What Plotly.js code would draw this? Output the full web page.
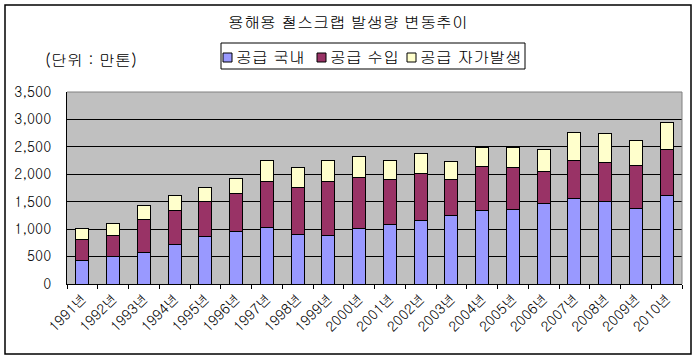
<!DOCTYPE html>
<html>
<head>
<meta charset="utf-8">
<script src="https://cdn.plot.ly/plotly-3.0.1.min.js"></script>
<style>html,body{margin:0;padding:0;background:#fff;}#chart{width:696px;height:360px;}</style>
</head>
<body>
<div id="chart"></div>
<script>
const years = ["1991년","1992년","1993년","1994년","1995년","1996년","1997년","1998년","1999년","2000년",
               "2001년","2002년","2003년","2004년","2005년","2006년","2007년","2008년","2009년","2010년"];
const domestic = [430, 500, 580, 720, 870, 960, 1030, 900, 890, 1010, 1090, 1160, 1250, 1340, 1360, 1470, 1560, 1500, 1380, 1610];
const imported = [380, 385, 600, 620, 635, 690, 840, 855, 980, 930, 820, 855, 655, 800, 765, 580, 690, 710, 780, 840];
const selfGen  = [200, 220, 255, 275, 255, 275, 380, 365, 380, 380, 345, 365, 330, 345, 365, 400, 510, 530, 455, 490];
const seriesNames = ["공급 국내", "공급 수입", "공급 자가발생"];
const titleText = "용해용 철스크랩 발생량 변동추이";
const unitText = "(단위 : 만톤)";

const FONT = "Gulim, 'Noto Sans CJK KR', sans-serif";
const colors = ["#9999FF", "#993366", "#FFFFCC"];
const vals = [domestic, imported, selfGen];
const traces = vals.map((v, i) => ({
  type: "bar", x: years, y: v, name: seriesNames[i],
  marker: {color: colors[i], line: {color: "#000", width: 1}},
  hoverinfo: "x+y+name"
}));

const L = 67, R = 682, T = 92, B = 284;
const W = R - L, H = B - T;
const px = x => (x - L) / W;
const py = y => (B - y) / H;

// legend (drawn as shapes + text, Excel style)
const legSq = [223, 317, 407];     // square left edges (px)
const shapes = [
  {type: "rect", xref: "paper", yref: "paper", x0: px(5), x1: px(691), y0: py(354), y1: py(5),
   line: {color: "#000", width: 1.5}, fillcolor: "rgba(0,0,0,0)", layer: "below"},
  {type: "line", xref: "paper", yref: "paper", x0: 0, x1: 1, y0: 1, y1: 1, line: {color: "#808080", width: 1}},
  {type: "line", xref: "paper", yref: "paper", x0: 1, x1: 1, y0: 0, y1: 1, line: {color: "#808080", width: 1}},
  {type: "rect", xref: "paper", yref: "paper", x0: px(221), x1: px(525), y0: py(69), y1: py(43),
   line: {color: "#000", width: 1}, fillcolor: "#fff"}
];
const annotations = [
  {text: unitText, xref: "paper", yref: "paper", x: px(43), y: py(59), xanchor: "left", yanchor: "middle",
   showarrow: false, font: {family: FONT, size: 16, color: "#000"}}
];
seriesNames.forEach((n, i) => {
  shapes.push({type: "rect", xref: "paper", yref: "paper", x0: px(legSq[i]), x1: px(legSq[i] + 9),
               y0: py(62), y1: py(53), line: {color: "#000", width: 1}, fillcolor: colors[i]});
  annotations.push({text: n, xref: "paper", yref: "paper", x: px(legSq[i] + 11), y: py(57),
                    xanchor: "left", yanchor: "middle", showarrow: false,
                    font: {family: FONT, size: 16, color: "#000"}});
});

const layout = {
  width: 696, height: 360,
  margin: {l: L, r: 696 - R, t: T, b: 360 - B},
  paper_bgcolor: "#fff", plot_bgcolor: "#C0C0C0",
  barmode: "stack", bargap: 0.58,
  font: {family: FONT, size: 14, color: "#000"},
  title: {text: titleText, font: {family: FONT, size: 16, color: "#000"}, x: 0.5, xanchor: "center", y: 1 - 22/360, yanchor: "middle"},
  showlegend: false,
  xaxis: {type: "category", tickangle: -45, ticks: "outside", ticklen: 4, tickcolor: "#000",
          tickson: "boundaries", showline: true, linecolor: "#000", linewidth: 1,
          tickfont: {family: FONT, size: 14}, showgrid: false, mirror: false},
  yaxis: {range: [0, 3500], dtick: 500, tickformat: ",d", showgrid: true, gridcolor: "#000", gridwidth: 1,
          showline: true, linecolor: "#000", linewidth: 1, ticks: "", zeroline: false,
          tickfont: {family: FONT, size: 14}, ticklabelstandoff: 12},
  shapes: shapes,
  annotations: annotations
};

Plotly.newPlot("chart", traces, layout, {displayModeBar: false, staticPlot: true});
</script>
</body>
</html>
